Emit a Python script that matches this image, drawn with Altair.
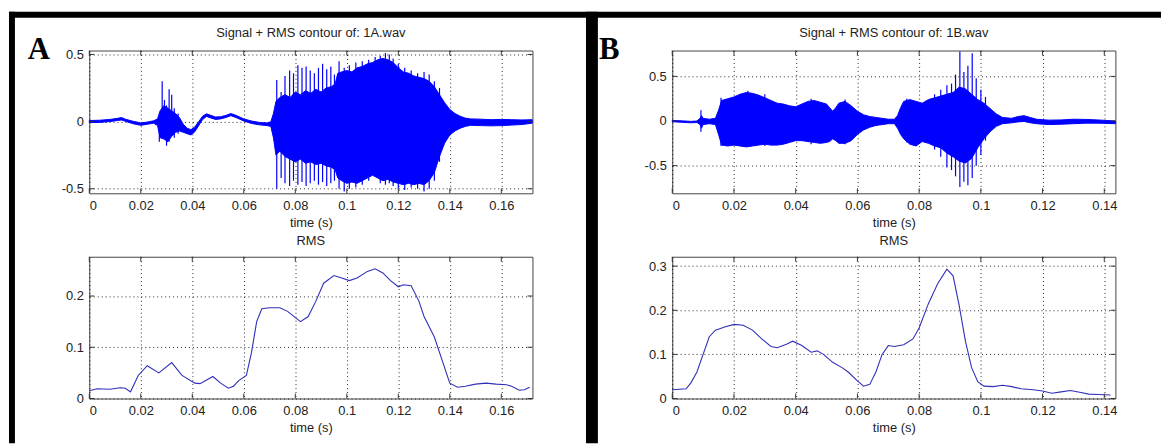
import altair as alt
import pandas as pd

# ---------------- Panel A : 1A.wav ----------------
a_env_t = [0.000, 0.004, 0.008, 0.011, 0.0125, 0.014, 0.017, 0.020, 0.0225, 0.025, 0.0265, 0.0275, 0.029, 0.0305,
           0.032, 0.0335, 0.035, 0.0365, 0.038, 0.0395, 0.041, 0.0425, 0.044, 0.0455, 0.047, 0.049, 0.051, 0.053,
           0.055, 0.057, 0.060, 0.063, 0.066, 0.069, 0.0705, 0.0715, 0.0725, 0.074, 0.076, 0.078, 0.080, 0.082,
           0.084, 0.086, 0.088, 0.090, 0.092, 0.094, 0.0955, 0.0965, 0.098, 0.100, 0.102, 0.104, 0.106, 0.108,
           0.110, 0.112, 0.114, 0.116, 0.118, 0.120, 0.122, 0.124, 0.126, 0.128, 0.130, 0.132, 0.134, 0.136,
           0.138, 0.140, 0.142, 0.144, 0.146, 0.148, 0.152, 0.156, 0.160, 0.164, 0.168, 0.172]
a_env_hi = [0.008, 0.010, 0.016, 0.024, 0.030, 0.018, 0.002, -0.010, -0.004, 0.006, 0.020, 0.080, 0.120, 0.100,
            0.080, 0.060, 0.030, -0.020, -0.050, -0.060, -0.040, 0.000, 0.040, 0.058, 0.048, 0.034, 0.036, 0.046,
            0.060, 0.046, 0.020, 0.004, -0.006, -0.010, -0.002, 0.060, 0.150, 0.180, 0.200, 0.180, 0.220, 0.200,
            0.230, 0.210, 0.240, 0.220, 0.250, 0.260, 0.280, 0.360, 0.370, 0.380, 0.370, 0.400, 0.410, 0.430,
            0.440, 0.460, 0.470, 0.460, 0.440, 0.400, 0.370, 0.360, 0.340, 0.330, 0.320, 0.300, 0.260, 0.200,
            0.140, 0.090, 0.060, 0.040, 0.026, 0.020, 0.018, 0.014, 0.016, 0.014, 0.012, 0.014]
a_env_lo = [-0.008, -0.006, 0.000, 0.008, 0.012, 0.002, -0.016, -0.028, -0.020, -0.012, -0.030, -0.120, -0.130,
            -0.150, -0.110, -0.080, -0.070, -0.080, -0.090, -0.100, -0.075, -0.030, 0.015, 0.038, 0.028, 0.016,
            0.020, 0.030, 0.044, 0.030, 0.004, -0.014, -0.024, -0.030, -0.036, -0.120, -0.250, -0.220, -0.260,
            -0.280, -0.300, -0.280, -0.310, -0.300, -0.320, -0.310, -0.330, -0.340, -0.360, -0.420, -0.440,
            -0.460, -0.450, -0.460, -0.440, -0.420, -0.400, -0.420, -0.440, -0.430, -0.450, -0.460, -0.470,
            -0.460, -0.470, -0.460, -0.470, -0.440, -0.380, -0.260, -0.160, -0.100, -0.070, -0.050, -0.036,
            -0.028, -0.030, -0.032, -0.030, -0.026, -0.022, -0.012]
a_spk_t = [0.0272, 0.0283, 0.0292, 0.0300, 0.0310, 0.0320, 0.0330, 0.0345,
           0.0728, 0.0745, 0.0760, 0.0778, 0.0793, 0.0810, 0.0826, 0.0842, 0.0858, 0.0874, 0.0890, 0.0906,
           0.0922, 0.0938, 0.0952, 0.0970, 0.0990, 0.1010, 0.1035, 0.1060, 0.1085, 0.1110, 0.1130, 0.1150,
           0.1165, 0.1180, 0.1200, 0.1225, 0.1250, 0.1275, 0.1300, 0.1320, 0.1340, 0.1360]
a_spk_hi = [0.04, 0.30, 0.16, 0.12, 0.24, 0.20, 0.10, 0.06,
            0.31, 0.22, 0.34, 0.38, 0.36, 0.42, 0.40, 0.41, 0.38, 0.36, 0.40, 0.43,
            0.39, 0.41, 0.35, 0.45, 0.40, 0.42, 0.44, 0.45, 0.46, 0.48, 0.49, 0.51,
            0.50, 0.47, 0.43, 0.40, 0.38, 0.36, 0.37, 0.35, 0.30, 0.25]
a_spk_lo = [-0.15, -0.10, -0.12, -0.18, -0.15, -0.10, -0.12, -0.09,
            -0.50, -0.42, -0.46, -0.48, -0.44, -0.47, -0.45, -0.48, -0.46, -0.44, -0.47, -0.45,
            -0.48, -0.46, -0.44, -0.50, -0.52, -0.50, -0.49, -0.47, -0.44, -0.40, -0.46, -0.47,
            -0.46, -0.48, -0.50, -0.51, -0.49, -0.50, -0.52, -0.50, -0.44, -0.30]
a_rms_t = [0.000, 0.003, 0.008, 0.012, 0.014, 0.016, 0.019, 0.0225, 0.027, 0.032, 0.036, 0.041, 0.043, 0.048,
           0.051, 0.054, 0.056, 0.058, 0.061, 0.063, 0.065, 0.067, 0.070, 0.074, 0.077, 0.082, 0.085, 0.088,
           0.091, 0.095, 0.098, 0.101, 0.104, 0.108, 0.111, 0.114, 0.117, 0.120, 0.122, 0.125, 0.128, 0.130,
           0.134, 0.137, 0.140, 0.143, 0.146, 0.150, 0.154, 0.158, 0.162, 0.164, 0.167, 0.169, 0.171]
a_rms_v = [0.015, 0.019, 0.018, 0.021, 0.020, 0.013, 0.045, 0.064, 0.050, 0.070, 0.045, 0.030, 0.029, 0.043,
           0.030, 0.020, 0.024, 0.035, 0.045, 0.090, 0.150, 0.175, 0.177, 0.177, 0.170, 0.150, 0.160, 0.190,
           0.225, 0.240, 0.235, 0.230, 0.235, 0.248, 0.253, 0.245, 0.230, 0.218, 0.222, 0.220, 0.190, 0.160,
           0.120, 0.075, 0.030, 0.022, 0.024, 0.028, 0.030, 0.028, 0.027, 0.024, 0.016, 0.017, 0.022]

# ---------------- Panel B : 1B.wav ----------------
b_env_t = [0.000, 0.003, 0.006, 0.008, 0.009, 0.0095, 0.010, 0.012, 0.014, 0.0150, 0.0160, 0.018, 0.020, 0.022,
           0.024, 0.026, 0.028, 0.030, 0.032, 0.034, 0.036, 0.038, 0.040, 0.042, 0.044, 0.046, 0.048, 0.050,
           0.051, 0.052, 0.053, 0.054, 0.056, 0.058, 0.060, 0.062, 0.064, 0.066, 0.068, 0.070, 0.072, 0.073,
           0.074, 0.075, 0.077, 0.079, 0.081, 0.083, 0.085, 0.087, 0.089, 0.091, 0.093, 0.095, 0.097, 0.099,
           0.101, 0.103, 0.105, 0.107, 0.110, 0.112, 0.114, 0.116, 0.118, 0.122, 0.126, 0.130, 0.134, 0.138,
           0.1436]
b_env_hi = [0.006, 0.002, -0.004, 0.000, 0.030, 0.060, 0.030, 0.020, 0.030, 0.120, 0.230, 0.250, 0.270, 0.300,
            0.320, 0.310, 0.290, 0.260, 0.230, 0.200, 0.190, 0.170, 0.160, 0.190, 0.220, 0.230, 0.210, 0.190,
            0.150, 0.110, 0.150, 0.200, 0.220, 0.170, 0.110, 0.070, 0.050, 0.040, 0.030, 0.020, 0.020, 0.060,
            0.150, 0.220, 0.240, 0.220, 0.200, 0.240, 0.260, 0.280, 0.300, 0.320, 0.380, 0.360, 0.300, 0.240,
            0.200, 0.140, 0.080, 0.040, 0.030, 0.050, 0.060, 0.040, 0.020, 0.010, 0.012, 0.020, 0.018, 0.012,
            0.000]
b_env_lo = [-0.008, -0.014, -0.020, -0.016, -0.040, -0.080, -0.040, -0.030, -0.040, -0.150, -0.270, -0.280,
            -0.270, -0.280, -0.290, -0.280, -0.270, -0.260, -0.270, -0.270, -0.260, -0.240, -0.220, -0.220,
            -0.230, -0.240, -0.250, -0.240, -0.230, -0.200, -0.220, -0.250, -0.250, -0.220, -0.150, -0.100,
            -0.070, -0.050, -0.040, -0.030, -0.030, -0.080, -0.150, -0.200, -0.260, -0.280, -0.230, -0.250,
            -0.280, -0.300, -0.360, -0.400, -0.450, -0.470, -0.420, -0.300, -0.200, -0.120, -0.060, -0.030,
            -0.020, -0.010, -0.005, -0.020, -0.030, -0.040, -0.036, -0.030, -0.024, -0.024, -0.030]
b_spk_t = [0.0093, 0.0158, 0.0245, 0.0300, 0.0450, 0.0560, 0.0760, 0.0850, 0.0870, 0.0890, 0.0905, 0.0918,
           0.0932, 0.0945, 0.0958, 0.0972, 0.0985, 0.1000, 0.1015]
b_spk_hi = [0.12, 0.26, 0.34, 0.30, 0.25, 0.24, 0.25, 0.30, 0.35, 0.40, 0.42, 0.52, 0.78, 0.55, 0.62, 0.76,
            0.48, 0.35, 0.27]
b_spk_lo = [-0.12, -0.28, -0.29, -0.28, -0.26, -0.26, -0.24, -0.32, -0.40, -0.52, -0.55, -0.62, -0.74, -0.68,
            -0.72, -0.64, -0.50, -0.38, -0.22]
b_rms_t = [0.000, 0.0045, 0.006, 0.008, 0.010, 0.012, 0.014, 0.017, 0.020, 0.023, 0.026, 0.029, 0.032, 0.034,
           0.037, 0.039, 0.042, 0.045, 0.047, 0.049, 0.052, 0.055, 0.057, 0.060, 0.062, 0.064, 0.066, 0.068,
           0.070, 0.072, 0.075, 0.078, 0.080, 0.083, 0.086, 0.089, 0.091, 0.093, 0.095, 0.097, 0.099, 0.101,
           0.104, 0.107, 0.110, 0.113, 0.117, 0.120, 0.123, 0.126, 0.129, 0.132, 0.135, 0.138, 0.142]
b_rms_v = [0.020, 0.022, 0.035, 0.060, 0.100, 0.140, 0.155, 0.162, 0.168, 0.166, 0.155, 0.135, 0.118, 0.115,
           0.123, 0.130, 0.120, 0.105, 0.108, 0.100, 0.082, 0.070, 0.060, 0.040, 0.028, 0.032, 0.060, 0.100,
           0.120, 0.118, 0.122, 0.135, 0.160, 0.215, 0.260, 0.293, 0.278, 0.210, 0.130, 0.070, 0.038, 0.028,
           0.027, 0.030, 0.027, 0.022, 0.020, 0.017, 0.012, 0.015, 0.018, 0.014, 0.010, 0.009, 0.008]

# ---------------- axes ----------------
a_xticks = [0, 0.02, 0.04, 0.06, 0.08, 0.1, 0.12, 0.14, 0.16]
b_xticks = [0, 0.02, 0.04, 0.06, 0.08, 0.1, 0.12, 0.14]
sig_yticks = [-0.5, 0, 0.5]
a_rms_yticks = [0, 0.1, 0.2]
b_rms_yticks = [0, 0.1, 0.2, 0.3]
a_xdom = [0, 0.1721]
b_xdom = [0, 0.1436]
a_sig_ydom = [-0.534, 0.529]
b_sig_ydom = [-0.81, 0.79]
a_rms_ydom = [0, 0.2766]
b_rms_ydom = [0, 0.3213]

W, H_TOP, H_BOT = 447, 144, 143
BLUE = "#0000ff"
RMS_BLUE = "#3030b8"
FONT = "Liberation Sans"
TXT = "#222222"


def xenc(field, dom, ticks):
    return alt.X(field, scale=alt.Scale(domain=dom, nice=False, zero=False),
                 axis=alt.Axis(values=ticks, title="time (s)", format="~g"))


def yenc(field, dom, ticks):
    return alt.Y(field, scale=alt.Scale(domain=dom, nice=False, zero=False),
                 axis=alt.Axis(values=ticks, title=None, format="~g"))


def inner_ticks(xticks, yticks, xdom, ydom, h):
    xd = pd.DataFrame({"t": xticks})
    yd = pd.DataFrame({"v": yticks})
    style = dict(color="#333", strokeWidth=1)
    xb = alt.Chart(xd).mark_rule(**style).encode(
        x=xenc("t:Q", xdom, xticks), y=alt.value(h), y2=alt.value(h - 5))
    xt = alt.Chart(xd).mark_rule(**style).encode(
        x=xenc("t:Q", xdom, xticks), y=alt.value(0), y2=alt.value(5))
    yl = alt.Chart(yd).mark_rule(**style).encode(
        y=yenc("v:Q", ydom, yticks), x=alt.value(0), x2=alt.value(5))
    yr = alt.Chart(yd).mark_rule(**style).encode(
        y=yenc("v:Q", ydom, yticks), x=alt.value(W), x2=alt.value(W - 5))
    return [xb, xt, yl, yr]


one = pd.DataFrame({"k": [0]})


def label(text, x, y, **kw):
    return alt.Chart(one).mark_text(text=text, **kw).encode(x=alt.value(x), y=alt.value(y))


def title_text(text, y):
    return label(text, W / 2, y, font=FONT, fontSize=13, fontWeight="normal", color=TXT,
                 align="center", baseline="middle")


def signal_chart(env_t, env_hi, env_lo, spk_t, spk_hi, spk_lo, xdom, ydom, xticks, title, extra):
    env = pd.DataFrame({"t": env_t, "hi": env_hi, "lo": env_lo})
    spk = pd.DataFrame({"t": spk_t, "hi": spk_hi, "lo": spk_lo})
    area = alt.Chart(env).mark_area(color=BLUE, opacity=1, stroke=BLUE, strokeWidth=1).encode(
        x=xenc("t:Q", xdom, xticks), y=yenc("hi:Q", ydom, sig_yticks), y2="lo:Q")
    spikes = alt.Chart(spk).mark_rule(color=BLUE, strokeWidth=1.2).encode(
        x=xenc("t:Q", xdom, xticks), y=yenc("hi:Q", ydom, sig_yticks), y2="lo:Q")
    layers = ([area, spikes] + inner_ticks(xticks, sig_yticks, xdom, ydom, H_TOP)
              + [title_text(title, -18)] + extra)
    return alt.layer(*layers).properties(width=W, height=H_TOP)


def rms_chart(rt, rv, xdom, ydom, xticks, yticks):
    d = pd.DataFrame({"t": rt, "r": rv})
    line = alt.Chart(d).mark_line(color=RMS_BLUE, strokeWidth=1.1).encode(
        x=xenc("t:Q", xdom, xticks), y=yenc("r:Q", ydom, yticks))
    layers = [line] + inner_ticks(xticks, yticks, xdom, ydom, H_BOT) + [title_text("RMS", -16)]
    return alt.layer(*layers).properties(width=W, height=H_BOT)


def block(x1, x2, y1, y2):
    return alt.Chart(one).mark_rect(color="#000000", strokeWidth=0).encode(
        x=alt.value(x1), x2=alt.value(x2), y=alt.value(y1), y2=alt.value(y2))


letter = dict(font="Liberation Serif", fontSize=31, fontWeight="bold", align="left",
              baseline="alphabetic", color="#000")
frame_a = [
    block(-81, 1081, -39, -33),   # top frame
    block(-81, -75, -39, 396),    # left frame
    block(501, 513, -39, 396),    # divider between A and B
    label("A", -62, 9, **letter),
]
frame_b = [label("B", -74, 9, **letter)]

a_top = signal_chart(a_env_t, a_env_hi, a_env_lo, a_spk_t, a_spk_hi, a_spk_lo, a_xdom, a_sig_ydom,
                     a_xticks, "Signal + RMS contour of: 1A.wav", frame_a)
a_bot = rms_chart(a_rms_t, a_rms_v, a_xdom, a_rms_ydom, a_xticks, a_rms_yticks)
b_top = signal_chart(b_env_t, b_env_hi, b_env_lo, b_spk_t, b_spk_hi, b_spk_lo, b_xdom, b_sig_ydom,
                     b_xticks, "Signal + RMS contour of: 1B.wav", frame_b)
b_bot = rms_chart(b_rms_t, b_rms_v, b_xdom, b_rms_ydom, b_xticks, b_rms_yticks)

chart = alt.concat(a_top, b_top, a_bot, b_bot, columns=2, bounds="flush",
                   spacing={"row": 64, "column": 141}).properties(
    padding={"top": 1, "left": 0, "right": 0, "bottom": 0}
).resolve_scale(x="independent", y="independent").configure(
    background="white",
    locale={"number": {"decimal": ".", "thousands": ",", "grouping": [3],
                       "currency": ["$", ""], "minus": "-"}}
).configure_view(
    stroke="#444", strokeWidth=1
).configure_axis(
    labelFont=FONT, labelFontSize=13, labelColor=TXT,
    titleFont=FONT, titleFontSize=13, titleFontWeight="normal", titleColor=TXT,
    ticks=False, domain=False, grid=True, gridColor="#000", gridDash=[1, 3], gridOpacity=0.85,
    labelPadding=6, titlePadding=4
)

chart.save("out.html", embed_options={"renderer": "svg", "actions": False})
